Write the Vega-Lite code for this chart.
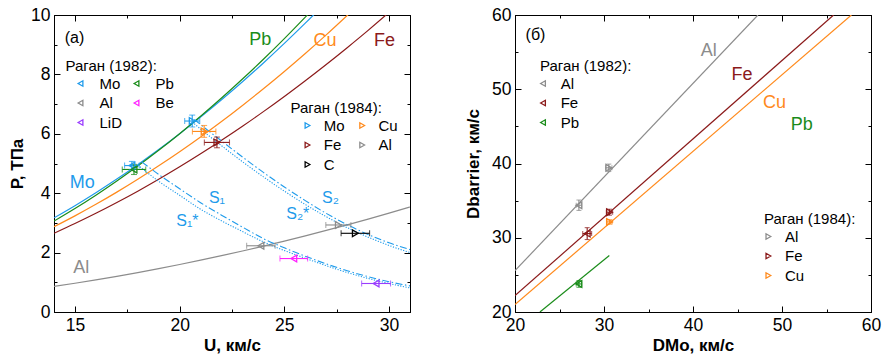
{
"$schema": "https://vega.github.io/schema/vega-lite/v6.json",
"padding": {"left": 8, "top": 5, "right": 5, "bottom": 5},
"background": "white",
"config": {
  "font": "Liberation Sans",
  "view": {"stroke": "black", "strokeWidth": 1},
  "axis": {"labelFontSize": 17.5, "titleFontSize": 17, "titleFontWeight": "bold", "labelColor": "black", "titleColor": "black", "domainColor": "black", "tickColor": "black", "tickWidth": 1, "domainWidth": 1, "grid": false, "labelFont": "Liberation Sans", "titleFont": "Liberation Sans", "labelFlush": false},
  "legend": {"labelFontSize": 15, "titleFontSize": 15, "titleFontWeight": "normal", "labelFont": "Liberation Sans", "titleFont": "Liberation Sans", "labelColor": "black", "titleColor": "black", "symbolSize": 30, "symbolStrokeWidth": 1.3, "rowPadding": 3.5, "titlePadding": 2, "padding": 0, "titleLimit": 300}
},
"datasets": {
  "curvesA": [
    {"m":"Mo","u":14,"P":3.170},{"m":"Mo","u":15,"P":3.581},{"m":"Mo","u":16,"P":4.016},{"m":"Mo","u":17,"P":4.476},{"m":"Mo","u":18,"P":4.961},{"m":"Mo","u":19,"P":5.470},{"m":"Mo","u":20,"P":6.004},{"m":"Mo","u":21,"P":6.563},{"m":"Mo","u":22,"P":7.146},{"m":"Mo","u":23,"P":7.753},{"m":"Mo","u":24,"P":8.386},{"m":"Mo","u":25,"P":9.043},{"m":"Mo","u":26,"P":9.724},{"m":"Mo","u":27,"P":10.43},
    {"m":"Pb","u":14,"P":3.060},{"m":"Pb","u":15,"P":3.483},{"m":"Pb","u":16,"P":3.933},{"m":"Pb","u":17,"P":4.410},{"m":"Pb","u":18,"P":4.914},{"m":"Pb","u":19,"P":5.445},{"m":"Pb","u":20,"P":6.004},{"m":"Pb","u":21,"P":6.590},{"m":"Pb","u":22,"P":7.203},{"m":"Pb","u":23,"P":7.843},{"m":"Pb","u":24,"P":8.510},{"m":"Pb","u":25,"P":9.205},{"m":"Pb","u":26,"P":9.927},{"m":"Pb","u":27,"P":10.676},
    {"m":"Cu","u":14,"P":2.870},{"m":"Cu","u":15,"P":3.237},{"m":"Cu","u":16,"P":3.626},{"m":"Cu","u":17,"P":4.036},{"m":"Cu","u":18,"P":4.469},{"m":"Cu","u":19,"P":4.923},{"m":"Cu","u":20,"P":5.398},{"m":"Cu","u":21,"P":5.895},{"m":"Cu","u":22,"P":6.413},{"m":"Cu","u":23,"P":6.955},{"m":"Cu","u":24,"P":7.517},{"m":"Cu","u":25,"P":8.100},{"m":"Cu","u":26,"P":8.705},{"m":"Cu","u":27,"P":9.331},{"m":"Cu","u":28,"P":9.982},{"m":"Cu","u":29,"P":10.65},
    {"m":"Fe","u":14,"P":2.650},{"m":"Fe","u":15,"P":2.978},{"m":"Fe","u":16,"P":3.323},{"m":"Fe","u":17,"P":3.687},{"m":"Fe","u":18,"P":4.068},{"m":"Fe","u":19,"P":4.469},{"m":"Fe","u":20,"P":4.888},{"m":"Fe","u":21,"P":5.326},{"m":"Fe","u":22,"P":5.782},{"m":"Fe","u":23,"P":6.254},{"m":"Fe","u":24,"P":6.747},{"m":"Fe","u":25,"P":7.258},{"m":"Fe","u":26,"P":7.787},{"m":"Fe","u":27,"P":8.334},{"m":"Fe","u":28,"P":8.900},{"m":"Fe","u":29,"P":9.483},{"m":"Fe","u":30,"P":10.09},
    {"m":"Al","u":14,"P":0.860},{"m":"Al","u":15,"P":0.968},{"m":"Al","u":16,"P":1.082},{"m":"Al","u":17,"P":1.202},{"m":"Al","u":18,"P":1.328},{"m":"Al","u":19,"P":1.461},{"m":"Al","u":20,"P":1.600},{"m":"Al","u":21,"P":1.745},{"m":"Al","u":22,"P":1.896},{"m":"Al","u":23,"P":2.054},{"m":"Al","u":24,"P":2.218},{"m":"Al","u":25,"P":2.388},{"m":"Al","u":26,"P":2.564},{"m":"Al","u":27,"P":2.746},{"m":"Al","u":28,"P":2.934},{"m":"Al","u":29,"P":3.129},{"m":"Al","u":30,"P":3.330},{"m":"Al","u":31,"P":3.537}
  ],
  "sA": [
    {"c":"S1","type":"S","u":18.2,"P":5.05},{"c":"S1","type":"S","u":19,"P":4.63},{"c":"S1","type":"S","u":20,"P":4.15},{"c":"S1","type":"S","u":21,"P":3.68},{"c":"S1","type":"S","u":22,"P":3.26},{"c":"S1","type":"S","u":23,"P":2.86},{"c":"S1","type":"S","u":24,"P":2.47},{"c":"S1","type":"S","u":25,"P":2.16},{"c":"S1","type":"S","u":26,"P":1.88},{"c":"S1","type":"S","u":27,"P":1.62},{"c":"S1","type":"S","u":28,"P":1.39},{"c":"S1","type":"S","u":29,"P":1.19},{"c":"S1","type":"S","u":30,"P":1.02},{"c":"S1","type":"S","u":31,"P":0.88},
    {"c":"S1*","type":"S*","u":18.0,"P":4.95},{"c":"S1*","type":"S*","u":19,"P":4.40},{"c":"S1*","type":"S*","u":20,"P":3.93},{"c":"S1*","type":"S*","u":21,"P":3.46},{"c":"S1*","type":"S*","u":22,"P":3.07},{"c":"S1*","type":"S*","u":23,"P":2.71},{"c":"S1*","type":"S*","u":24,"P":2.36},{"c":"S1*","type":"S*","u":25,"P":2.07},{"c":"S1*","type":"S*","u":26,"P":1.81},{"c":"S1*","type":"S*","u":27,"P":1.56},{"c":"S1*","type":"S*","u":28,"P":1.33},{"c":"S1*","type":"S*","u":29,"P":1.13},{"c":"S1*","type":"S*","u":30,"P":0.96},{"c":"S1*","type":"S*","u":31,"P":0.81},
    {"c":"S2","type":"S","u":20.7,"P":6.48},{"c":"S2","type":"S","u":21,"P":6.31},{"c":"S2","type":"S","u":22,"P":5.76},{"c":"S2","type":"S","u":23,"P":5.22},{"c":"S2","type":"S","u":24,"P":4.70},{"c":"S2","type":"S","u":25,"P":4.21},{"c":"S2","type":"S","u":26,"P":3.75},{"c":"S2","type":"S","u":27,"P":3.32},{"c":"S2","type":"S","u":28,"P":2.94},{"c":"S2","type":"S","u":29,"P":2.61},{"c":"S2","type":"S","u":30,"P":2.33},{"c":"S2","type":"S","u":31,"P":2.10},
    {"c":"S2*","type":"S*","u":20.6,"P":6.40},{"c":"S2*","type":"S*","u":21,"P":6.16},{"c":"S2*","type":"S*","u":22,"P":5.60},{"c":"S2*","type":"S*","u":23,"P":5.06},{"c":"S2*","type":"S*","u":24,"P":4.55},{"c":"S2*","type":"S*","u":25,"P":4.07},{"c":"S2*","type":"S*","u":26,"P":3.62},{"c":"S2*","type":"S*","u":27,"P":3.21},{"c":"S2*","type":"S*","u":28,"P":2.84},{"c":"S2*","type":"S*","u":29,"P":2.52},{"c":"S2*","type":"S*","u":30,"P":2.24},{"c":"S2*","type":"S*","u":31,"P":2.00}
  ],
  "ptsA": [
    {"m":"Mo","s":1982,"u":17.72,"P":4.93,"ue":0.35,"pe":0.14},
    {"m":"Pb","s":1982,"u":17.82,"P":4.80,"ue":0.56,"pe":0.17},
    {"m":"Al","s":1982,"u":23.88,"P":2.23,"ue":0.68,"pe":0},
    {"m":"Be","s":1982,"u":25.45,"P":1.80,"ue":0.66,"pe":0},
    {"m":"LiD","s":1982,"u":29.38,"P":0.96,"ue":0.69,"pe":0},
    {"m":"Mo","s":1984,"u":20.60,"P":6.43,"ue":0.36,"pe":0.2},
    {"m":"Cu","s":1984,"u":21.17,"P":6.08,"ue":0.56,"pe":0.2},
    {"m":"Fe","s":1984,"u":21.78,"P":5.71,"ue":0.60,"pe":0.18},
    {"m":"Al","s":1984,"u":27.58,"P":2.93,"ue":0.60,"pe":0},
    {"m":"C","s":1984,"u":28.39,"P":2.65,"ue":0.68,"pe":0}
  ],
  "labA": [
    {"t":"Pb","m":"Pb","u":23.85,"P":9.15},
    {"t":"Cu","m":"Cu","u":26.94,"P":9.12},
    {"t":"Fe","m":"Fe","u":29.78,"P":9.12},
    {"t":"Mo","m":"Mo","u":15.35,"P":4.35},
    {"t":"Al","m":"Al","u":15.30,"P":1.49}
  ],
  "smallA": [
    {"t":"(а)","m":"k","u":14.98,"P":9.23},
    {"t":"S₁","m":"S","u":21.78,"P":3.85},
    {"t":"S₁*","m":"S","u":20.37,"P":3.06},
    {"t":"S₂","m":"S","u":27.20,"P":3.85},
    {"t":"S₂*","m":"S","u":25.64,"P":3.29}
  ],
  "linesB": [
    {"m":"Al","dm":20,"db":25.57},{"m":"Al","dm":47.3,"db":60},
    {"m":"Fe","dm":20,"db":22.2},{"m":"Fe","dm":55.8,"db":60},
    {"m":"Cu","dm":20,"db":21.0},{"m":"Cu","dm":57.8,"db":60},
    {"m":"Pb","dm":22.8,"db":20},{"m":"Pb","dm":30.6,"db":27.6}
  ],
  "ptsB": [
    {"m":"Al","s":1982,"dm":27.18,"db":34.38,"xe":0.3,"ye":0.7},
    {"m":"Fe","s":1982,"dm":28.11,"db":30.56,"xe":0.5,"ye":0.8},
    {"m":"Pb","s":1982,"dm":27.18,"db":23.78,"xe":0.3,"ye":0.45},
    {"m":"Al","s":1984,"dm":30.54,"db":39.42,"xe":0.35,"ye":0.5},
    {"m":"Fe","s":1984,"dm":30.62,"db":33.44,"xe":0.35,"ye":0.4},
    {"m":"Cu","s":1984,"dm":30.62,"db":32.13,"xe":0.3,"ye":0.3}
  ],
  "labB": [
    {"t":"Al","m":"Al","dm":41.76,"db":55.15},
    {"t":"Fe","m":"Fe","dm":45.5,"db":51.9},
    {"t":"Cu","m":"Cu","dm":49.16,"db":48.18},
    {"t":"Pb","m":"Pb","dm":52.22,"db":45.17}
  ],
  "smallB": [
    {"t":"(б)","m":"k","dm":22.3,"db":57.3}
  ]
},
"spacing": 53,
"hconcat": [
 {
  "width": 356, "height": 297,
  "layer": [
   {
    "encoding": {
      "x": {"field":"u","type":"quantitative","scale":{"domain":[14,31],"nice":false,"zero":false},
            "axis":{"orient":"bottom","values":[15,17.5,20,22.5,25,27.5,30],"tickSize":{"condition":{"test":"datum.value % 5 === 0","value":-6},"value":-3},"labelExpr":"datum.value % 5 === 0 ? datum.label : ''","labelPadding":10,"title":"U, км/с","titlePadding":4}},
      "y": {"field":"P","type":"quantitative","scale":{"domain":[0,10],"nice":false,"zero":false},
            "axis":{"orient":"left","values":[0,1,2,3,4,5,6,7,8,9,10],"tickSize":{"condition":{"test":"datum.value % 2 === 0","value":-6},"value":-3},"labelExpr":"datum.value % 2 === 0 ? datum.label : ''","labelPadding":10,"title":"P, ТПа","titlePadding":4}}
    },
    "layer": [
      {"data":{"name":"curvesA"},"mark":{"type":"line","strokeWidth":1.2,"clip":true,"interpolate":"monotone"},
       "encoding":{"color":{"field":"m","type":"nominal","scale":{"domain":["Mo","Pb","Cu","Fe","Al"],"range":["#1E9BEB","#1a8c1a","#ff8a1c","#8b1a1a","#8c8c8c"]},"legend":null},"order":{"field":"u","type":"quantitative"}}},
      {"data":{"name":"sA"},"mark":{"type":"line","strokeWidth":1.1,"clip":true,"interpolate":"monotone","color":"#1E9BEB"},
       "encoding":{"detail":{"field":"c","type":"nominal"},"strokeDash":{"field":"type","type":"nominal","scale":{"domain":["S","S*"],"range":[[7,2.5,1.5,2.5],[1.2,1.5]]},"legend":null},"order":{"field":"u","type":"quantitative"}}},
      {"data":{"name":"ptsA"},"transform":[{"filter":"datum.ue > 0"}],"mark":{"type":"errorbar","ticks":{"size":6},"thickness":1.1},
       "encoding":{"xError":{"field":"ue"},"color":{"field":"m","type":"nominal","scale":{"domain":["Mo","Pb","Al","Be","LiD","Cu","Fe","C"],"range":["#1E9BEB","#1a8c1a","#8c8c8c","#ff22ff","#9a3cff","#ff8a1c","#8b1a1a","#000000"]},"legend":null}}},
      {"data":{"name":"ptsA"},"transform":[{"filter":"datum.pe > 0"}],"mark":{"type":"errorbar","ticks":{"size":6},"thickness":1.1},
       "encoding":{"yError":{"field":"pe"},"color":{"field":"m","type":"nominal","scale":{"domain":["Mo","Pb","Al","Be","LiD","Cu","Fe","C"],"range":["#1E9BEB","#1a8c1a","#8c8c8c","#ff22ff","#9a3cff","#ff8a1c","#8b1a1a","#000000"]},"legend":null}}},
      {"data":{"name":"ptsA"},"transform":[{"filter":"datum.s == 1982 && (datum.m == 'Mo' || datum.m == 'Al' || datum.m == 'LiD')"}],"mark":{"type":"point","shape":"triangle-left","filled":false,"size":45,"strokeWidth":1.3,"opacity":1},
       "encoding":{"color":{"field":"m","type":"nominal","scale":{"domain":["Mo","Al","LiD"],"range":["#1E9BEB","#8c8c8c","#9a3cff"]},
         "legend":{"title":"Раган (1982):","orient":"none","legendX":11.5,"legendY":44,"symbolType":"triangle-left","symbolOffset":7.5,"labelOffset":11.5}}}},
      {"data":{"name":"ptsA"},"transform":[{"filter":"datum.s == 1982 && (datum.m == 'Pb' || datum.m == 'Be')"}],"mark":{"type":"point","shape":"triangle-left","filled":false,"size":45,"strokeWidth":1.3,"opacity":1},
       "encoding":{"color":{"field":"m","type":"nominal","scale":{"domain":["Pb","Be"],"range":["#1a8c1a","#ff22ff"]},
         "legend":{"title":null,"orient":"none","legendX":67.5,"legendY":61,"symbolType":"triangle-left","symbolOffset":7.5,"labelOffset":11.5}}}},
      {"data":{"name":"ptsA"},"transform":[{"filter":"datum.s == 1984 && (datum.m == 'Mo' || datum.m == 'Fe' || datum.m == 'C')"}],"mark":{"type":"point","shape":"triangle-right","filled":false,"size":45,"strokeWidth":1.3,"opacity":1},
       "encoding":{"color":{"field":"m","type":"nominal","scale":{"domain":["Mo","Fe","C"],"range":["#1E9BEB","#8b1a1a","#000000"]},
         "legend":{"title":"Раган (1984):","orient":"none","legendX":236.5,"legendY":86,"symbolType":"triangle-right","symbolOffset":9.5,"labelOffset":8.8}}}},
      {"data":{"name":"ptsA"},"transform":[{"filter":"datum.s == 1984 && (datum.m == 'Cu' || datum.m == 'Al')"}],"mark":{"type":"point","shape":"triangle-right","filled":false,"size":45,"strokeWidth":1.3,"opacity":1},
       "encoding":{"color":{"field":"m","type":"nominal","scale":{"domain":["Cu","Al"],"range":["#ff8a1c","#8c8c8c"]},
         "legend":{"title":null,"orient":"none","legendX":291.2,"legendY":103,"symbolType":"triangle-right","symbolOffset":9.5,"labelOffset":8.8}}}},
      {"data":{"name":"smallA"},"mark":{"type":"text","fontSize":16,"align":"center","baseline":"middle"},
       "encoding":{"text":{"field":"t"},"color":{"field":"m","type":"nominal","scale":{"domain":["k","S"],"range":["#000000","#1E9BEB"]},"legend":null}}}
    ],
    "resolve": {"scale": {"color": "independent"}}
   },
   {
    "data":{"name":"labA"},
    "mark":{"type":"text","fontSize":18,"align":"center","baseline":"middle"},
    "encoding":{
      "x": {"field":"u","type":"quantitative","scale":{"domain":[14,31],"nice":false,"zero":false},
            "axis":{"orient":"top","values":[15,17.5,20,22.5,25,27.5,30],"tickSize":{"condition":{"test":"datum.value % 5 === 0","value":-6},"value":-3},"labels":false,"title":null}},
      "y": {"field":"P","type":"quantitative","scale":{"domain":[0,10],"nice":false,"zero":false},
            "axis":{"orient":"right","values":[0,1,2,3,4,5,6,7,8,9,10],"tickSize":{"condition":{"test":"datum.value % 2 === 0","value":-6},"value":-3},"labels":false,"title":null}},
      "text":{"field":"t"},
      "color":{"field":"m","type":"nominal","scale":{"domain":["Mo","Pb","Cu","Fe","Al"],"range":["#1E9BEB","#1a8c1a","#ff8a1c","#8b1a1a","#8c8c8c"]},"legend":null}
    }
   }
  ],
  "resolve": {"axis": {"x": "independent", "y": "independent"}, "scale": {"color": "independent"}}
 },
 {
  "width": 356, "height": 297,
  "layer": [
   {
    "encoding": {
      "x": {"field":"dm","type":"quantitative","scale":{"domain":[20,60],"nice":false,"zero":false},
            "axis":{"orient":"bottom","values":[20,25,30,35,40,45,50,55,60],"tickSize":{"condition":{"test":"datum.value % 10 === 0","value":-6},"value":-3},"labelExpr":"datum.value % 10 === 0 ? datum.label : ''","labelPadding":10,"title":"DMo, км/с","titlePadding":4}},
      "y": {"field":"db","type":"quantitative","scale":{"domain":[20,60],"nice":false,"zero":false},
            "axis":{"orient":"left","values":[20,25,30,35,40,45,50,55,60],"tickSize":{"condition":{"test":"datum.value % 10 === 0","value":-6},"value":-3},"labelExpr":"datum.value % 10 === 0 ? datum.label : ''","labelPadding":10,"title":"Dbarrier, км/с","titlePadding":9}}
    },
    "layer": [
      {"data":{"name":"linesB"},"mark":{"type":"line","strokeWidth":1.2,"clip":true},
       "encoding":{"color":{"field":"m","type":"nominal","scale":{"domain":["Al","Fe","Cu","Pb"],"range":["#8c8c8c","#8b1a1a","#ff8a1c","#1a8c1a"]},"legend":null},"order":{"field":"dm","type":"quantitative"}}},
      {"data":{"name":"ptsB"},"mark":{"type":"errorbar","ticks":{"size":5},"thickness":1.1},
       "encoding":{"xError":{"field":"xe"},"color":{"field":"m","type":"nominal","scale":{"domain":["Al","Fe","Cu","Pb"],"range":["#8c8c8c","#8b1a1a","#ff8a1c","#1a8c1a"]},"legend":null}}},
      {"data":{"name":"ptsB"},"mark":{"type":"errorbar","ticks":{"size":5},"thickness":1.1},
       "encoding":{"yError":{"field":"ye"},"color":{"field":"m","type":"nominal","scale":{"domain":["Al","Fe","Cu","Pb"],"range":["#8c8c8c","#8b1a1a","#ff8a1c","#1a8c1a"]},"legend":null}}},
      {"data":{"name":"ptsB"},"transform":[{"filter":"datum.s == 1982"}],"mark":{"type":"point","shape":"triangle-left","filled":false,"size":45,"strokeWidth":1.3,"opacity":1},
       "encoding":{"color":{"field":"m","type":"nominal","scale":{"domain":["Al","Fe","Pb"],"range":["#8c8c8c","#8b1a1a","#1a8c1a"]},
         "legend":{"title":"Раган (1982):","orient":"none","legendX":25,"legendY":44,"symbolType":"triangle-left","symbolOffset":-4.5,"labelOffset":10.2}}}},
      {"data":{"name":"ptsB"},"transform":[{"filter":"datum.s == 1984"}],"mark":{"type":"point","shape":"triangle-right","filled":false,"size":45,"strokeWidth":1.3,"opacity":1},
       "encoding":{"color":{"field":"m","type":"nominal","scale":{"domain":["Al","Fe","Cu"],"range":["#8c8c8c","#8b1a1a","#ff8a1c"]},
         "legend":{"title":"Раган (1984):","orient":"none","legendX":249,"legendY":197,"symbolType":"triangle-right","symbolOffset":-3.1,"labelOffset":9.1}}}},
      {"data":{"name":"smallB"},"mark":{"type":"text","fontSize":16,"align":"center","baseline":"middle","color":"black"},
       "encoding":{"text":{"field":"t"}}}
    ],
    "resolve": {"scale": {"color": "independent"}}
   },
   {
    "data":{"name":"labB"},
    "mark":{"type":"text","fontSize":18,"align":"center","baseline":"middle"},
    "encoding":{
      "x": {"field":"dm","type":"quantitative","scale":{"domain":[20,60],"nice":false,"zero":false},
            "axis":{"orient":"top","values":[20,25,30,35,40,45,50,55,60],"tickSize":{"condition":{"test":"datum.value % 10 === 0","value":-6},"value":-3},"labels":false,"title":null}},
      "y": {"field":"db","type":"quantitative","scale":{"domain":[20,60],"nice":false,"zero":false},
            "axis":{"orient":"right","values":[20,25,30,35,40,45,50,55,60],"tickSize":{"condition":{"test":"datum.value % 10 === 0","value":-6},"value":-3},"labels":false,"title":null}},
      "text":{"field":"t"},
      "color":{"field":"m","type":"nominal","scale":{"domain":["Al","Fe","Cu","Pb"],"range":["#8c8c8c","#8b1a1a","#ff8a1c","#1a8c1a"]},"legend":null}
    }
   }
  ],
  "resolve": {"axis": {"x": "independent", "y": "independent"}, "scale": {"color": "independent"}}
 }
]
}
